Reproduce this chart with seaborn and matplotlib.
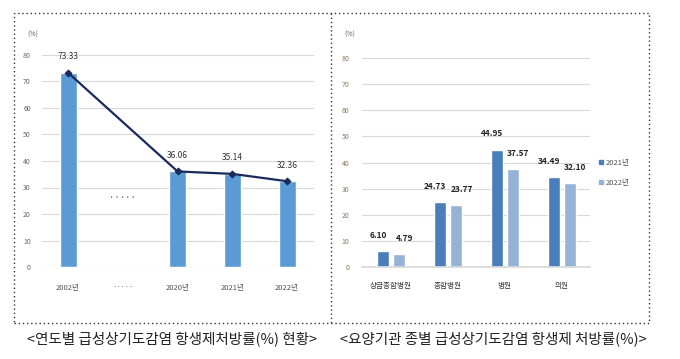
import matplotlib
matplotlib.use("Agg")
import matplotlib.pyplot as plt
import seaborn as sns
import pandas as pd
from matplotlib.lines import Line2D
from matplotlib.patches import Rectangle

sns.set_theme(style="white")
plt.rcParams['font.family'] = ['Noto Sans CJK KR', 'DejaVu Sans']

# ---- data ----
years = ["2002년", "·····", "2020년", "2021년", "2022년"]
year_bar_labels = ["2002년", "2020년", "2021년", "2022년"]
year_values = [73.33, 36.06, 35.14, 32.36]

inst_types = ["상급종합병원", "종합병원", "병원", "의원"]
rate_2021 = [6.10, 24.73, 44.95, 34.49]
rate_2022 = [4.79, 23.77, 37.57, 32.10]
series_names = ["2021년", "2022년"]

y_ticks = [0, 10, 20, 30, 40, 50, 60, 70, 80]

W, H = 680, 359
fig = plt.figure(figsize=(W / 100, H / 100), dpi=100)

def fx(px):
    return px / W

def fy(py):
    return 1 - py / H

# ---- left chart ----
axL = fig.add_axes([fx(42), fy(267), fx(314 - 42), (267 - 55) / H])
dfL = pd.DataFrame({"year": year_bar_labels, "value": year_values})
sns.barplot(data=dfL, x="year", y="value", order=years, color="#5B9BD5",
            width=0.31, ax=axL, saturation=1)
pos = [years.index(y) for y in year_bar_labels]
sns.lineplot(x=pos, y=year_values, ax=axL, color="#1B2A5C", linewidth=1.6,
             marker="D", markersize=3.5, markeredgecolor="#1B2A5C")
for p, v in zip(pos, year_values):
    axL.text(p, v + 6, f"{v:.2f}", ha="center", va="center", fontsize=6,
             color="#333333")
axL.text(1, 26, "·····", ha="center", va="center", fontsize=7, color="#555555")
axL.set_xlim(-0.475, 4.49)
axL.set_ylim(0, 80)
axL.set_yticks(y_ticks)
axL.set_yticklabels([str(t) for t in y_ticks], fontsize=5, color="#666666")
axL.tick_params(axis="x", labelsize=5.5, colors="#555555", pad=12, length=0)
axL.tick_params(axis="y", length=0, pad=8)
axL.set_xlabel("")
axL.set_ylabel("")
axL.yaxis.grid(True, color="#D9D9D9", linewidth=0.8)
axL.set_axisbelow(True)
for s in axL.spines.values():
    s.set_visible(False)
fig.text(fx(27), fy(35), "(%)", fontsize=5, color="#666666", ha="left", va="center")

# ---- right chart ----
axR = fig.add_axes([fx(362), fy(267), fx(590 - 362), (267 - 58) / H])
dfR = pd.DataFrame({
    "type": inst_types * 2,
    "value": rate_2021 + rate_2022,
    "series": [series_names[0]] * 4 + [series_names[1]] * 4,
})
palette = {series_names[0]: "#4A7EBB", series_names[1]: "#95B3D7"}
sns.barplot(data=dfR, x="type", y="value", hue="series", order=inst_types,
            hue_order=series_names, palette=palette, width=0.56, gap=0.25,
            ax=axR, saturation=1, legend=False)
for i, (a, b) in enumerate(zip(rate_2021, rate_2022)):
    axR.text(i - 0.22, a + 6, f"{a:.2f}", ha="center", va="center",
             fontsize=6, color="#222222", fontweight="bold")
    axR.text(i + 0.24, b + 6, f"{b:.2f}", ha="center", va="center",
             fontsize=6, color="#222222", fontweight="bold")
axR.set_xlim(-0.51, 3.5)
axR.set_ylim(0, 80)
axR.set_yticks(y_ticks)
axR.set_yticklabels([str(t) for t in y_ticks], fontsize=5, color="#8C7A5A")
axR.tick_params(axis="x", labelsize=5.5, colors="#333333", pad=11, length=0)
axR.tick_params(axis="y", length=0, pad=9)
axR.set_xlabel("")
axR.set_ylabel("")
axR.yaxis.grid(True, color="#D9D9D9", linewidth=0.8)
axR.set_axisbelow(True)
for s in axR.spines.values():
    s.set_visible(False)
axR.spines["bottom"].set_visible(True)
axR.spines["bottom"].set_color("#D9D9D9")
fig.text(fx(344), fy(35), "(%)", fontsize=5, color="#666666", ha="left", va="center")

handles = [Line2D([0], [0], marker="s", linestyle="", markersize=3.5,
                  markerfacecolor=palette[n], markeredgecolor=palette[n])
           for n in series_names]
fig.legend(handles, series_names, loc="center left",
           bbox_to_anchor=(fx(598), fy(173)), frameon=False, fontsize=5.5,
           handletextpad=0.2, labelspacing=1.6, labelcolor="#555555",
           borderaxespad=0, borderpad=0, handlelength=0.8)

# ---- dotted frame ----
frame = Rectangle((fx(14), fy(323)), fx(649 - 14), (323 - 13) / H,
                  transform=fig.transFigure, fill=False, linestyle=(0, (1, 2)),
                  edgecolor="#333333", linewidth=1.0)
fig.add_artist(frame)
fig.add_artist(Line2D([fx(331), fx(331)], [fy(13), fy(323)],
                      transform=fig.transFigure, linestyle=(0, (1, 2)),
                      color="#333333", linewidth=1.0))

# ---- captions ----
fig.text(fx(172), fy(339), "<연도별 급성상기도감염 항생제처방률(%) 현황>",
         ha="center", va="center", fontsize=10.5, color="#222222")
fig.text(fx(493), fy(339), "<요양기관 종별 급성상기도감염 항생제 처방률(%)>",
         ha="center", va="center", fontsize=10.5, color="#222222")

fig.savefig("out.png", dpi=100)
